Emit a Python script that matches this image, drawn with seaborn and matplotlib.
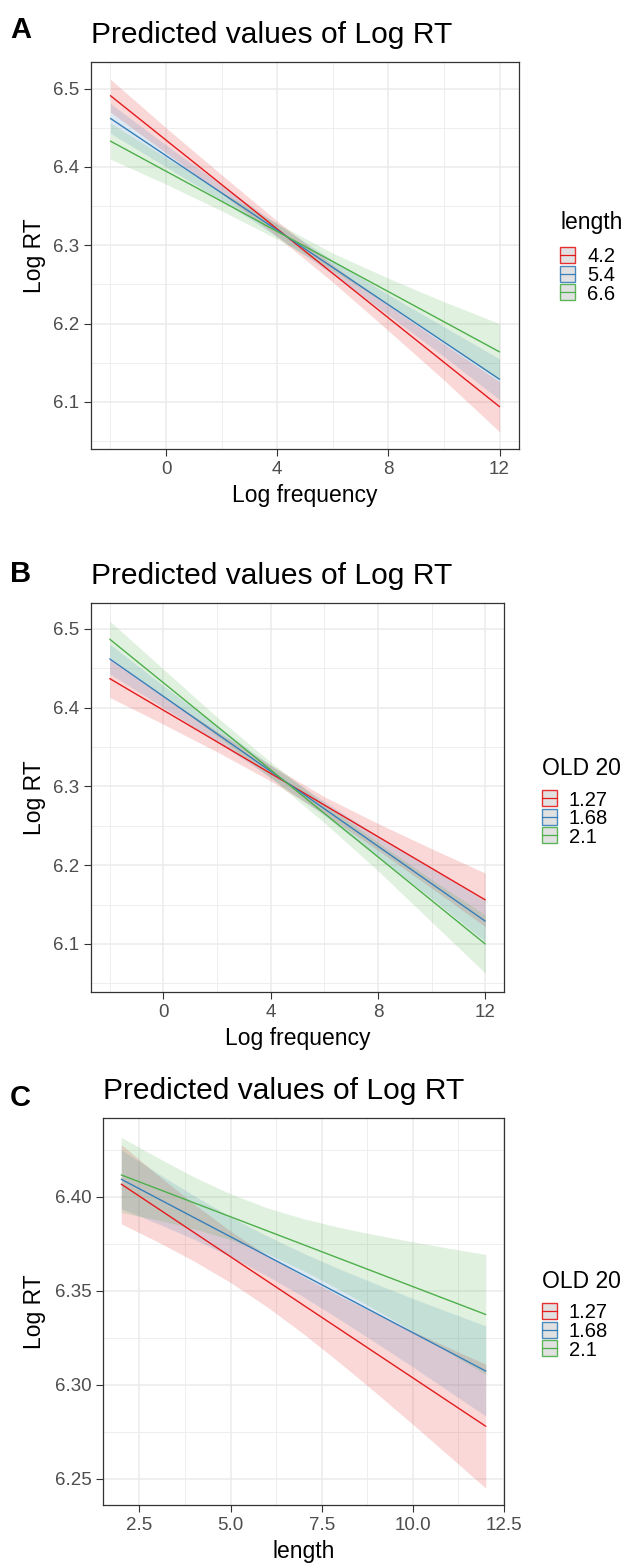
import numpy as np
import pandas as pd
import matplotlib
matplotlib.use("Agg")
import matplotlib.pyplot as plt
import seaborn as sns
from matplotlib.patches import Rectangle
from matplotlib.lines import Line2D
from matplotlib.ticker import MultipleLocator

# ---------------- data ----------------
TITLE = "Predicted values of Log RT"
COLORS = ["#E41A1C", "#377EB8", "#4DAF4A"]

# Panel A : Log frequency x length
a_groups = ["4.2", "5.4", "6.6"]
a_line_x = [-2, 12]
a_pred_1 = [6.491, 6.094]
a_pred_2 = [6.462, 6.129]
a_pred_3 = [6.433, 6.164]
a_band_x = [-2, 0, 2, 4, 6, 8, 10, 12]
a_lo_1 = [6.470, 6.418, 6.366, 6.311, 6.253, 6.191, 6.128, 6.062]
a_hi_1 = [6.512, 6.450, 6.390, 6.331, 6.275, 6.223, 6.174, 6.126]
a_lo_2 = [6.443, 6.400, 6.357, 6.311, 6.263, 6.211, 6.158, 6.103]
a_hi_2 = [6.481, 6.428, 6.377, 6.327, 6.281, 6.237, 6.196, 6.155]
a_lo_3 = [6.410, 6.378, 6.344, 6.308, 6.268, 6.224, 6.176, 6.128]
a_hi_3 = [6.456, 6.412, 6.368, 6.328, 6.290, 6.258, 6.228, 6.200]
a_xticks = [0, 4, 8, 12]
a_xticklabels = ["0", "4", "8", "12"]
a_yticks = [6.1, 6.2, 6.3, 6.4, 6.5]
a_yticklabels = ["6.1", "6.2", "6.3", "6.4", "6.5"]

# Panel B : Log frequency x OLD 20
b_groups = ["1.27", "1.68", "2.1"]
b_line_x = [-2, 12]
b_pred_1 = [6.437, 6.156]
b_pred_2 = [6.462, 6.129]
b_pred_3 = [6.487, 6.100]
b_band_x = [-2, 0, 2, 4, 6, 8, 10, 12]
b_lo_1 = [6.413, 6.379, 6.344, 6.307, 6.265, 6.219, 6.171, 6.122]
b_hi_1 = [6.461, 6.415, 6.370, 6.327, 6.287, 6.253, 6.221, 6.190]
b_lo_2 = [6.443, 6.400, 6.357, 6.311, 6.263, 6.211, 6.158, 6.103]
b_hi_2 = [6.481, 6.428, 6.377, 6.327, 6.281, 6.237, 6.196, 6.155]
b_lo_3 = [6.464, 6.415, 6.364, 6.311, 6.254, 6.193, 6.128, 6.063]
b_hi_3 = [6.510, 6.449, 6.388, 6.331, 6.278, 6.229, 6.182, 6.137]
b_xticks = [0, 4, 8, 12]
b_xticklabels = ["0", "4", "8", "12"]
b_yticks = [6.1, 6.2, 6.3, 6.4, 6.5]
b_yticklabels = ["6.1", "6.2", "6.3", "6.4", "6.5"]

# Panel C : length x OLD 20
c_groups = ["1.27", "1.68", "2.1"]
c_line_x = [2, 12]
c_pred_1 = [6.4068, 6.2779]
c_pred_2 = [6.4094, 6.3073]
c_pred_3 = [6.4117, 6.3374]
c_band_x = [2, 3, 4, 5, 6, 7, 8, 9, 10, 11, 12]
c_lo_1 = [6.3857, 6.3761, 6.3658, 6.3544, 6.3415, 6.3271, 6.3116, 6.2955, 6.2789, 6.2620, 6.2449]
c_hi_1 = [6.4279, 6.4117, 6.3962, 6.3818, 6.3689, 6.3575, 6.3472, 6.3377, 6.3285, 6.3196, 6.3109]
c_lo_2 = [6.3937, 6.3858, 6.3774, 6.3682, 6.3580, 6.3468, 6.3347, 6.3222, 6.3095, 6.2964, 6.2833]
c_hi_2 = [6.4251, 6.4126, 6.4006, 6.3894, 6.3792, 6.3700, 6.3615, 6.3536, 6.3459, 6.3386, 6.3313]
c_lo_3 = [6.3917, 6.3877, 6.3830, 6.3772, 6.3698, 6.3608, 6.3505, 6.3397, 6.3285, 6.3170, 6.3054]
c_hi_3 = [6.4317, 6.4209, 6.4106, 6.4016, 6.3942, 6.3884, 6.3837, 6.3797, 6.3761, 6.3726, 6.3694]
c_xticks = [2.5, 5.0, 7.5, 10.0, 12.5]
c_xticklabels = ["2.5", "5.0", "7.5", "10.0", "12.5"]
c_yticks = [6.25, 6.30, 6.35, 6.40]
c_yticklabels = ["6.25", "6.30", "6.35", "6.40"]

# ---------------- style ----------------
sns.set_theme(style="white")
plt.rcParams["font.family"] = ["Liberation Sans", "DejaVu Sans"]

W, H = 630, 1567
fig = plt.figure(figsize=(W / 100, H / 100), dpi=100)
fig.patch.set_facecolor("white")


def fx(px):
    return px / W


def fy(py):
    return 1 - py / H


def make_axes(l, t, r, b):
    return fig.add_axes([fx(l), fy(b), (r - l) / W, (b - t) / H])


panels = [
    dict(letter="A", box=(91, 62, 519, 449), xlim=(-2.7, 12.7), ylim=(6.040, 6.534),
         groups=a_groups, line_x=a_line_x, preds=[a_pred_1, a_pred_2, a_pred_3],
         band_x=a_band_x, los=[a_lo_1, a_lo_2, a_lo_3], his=[a_hi_1, a_hi_2, a_hi_3],
         xticks=a_xticks, xtl=a_xticklabels, yticks=a_yticks, ytl=a_yticklabels,
         xminor=2, yminor=0.05, xlabel="Log frequency", legend_title="length",
         letter_y=38, leg_x=560, leg_title_y=229, leg_c=[255, 273.5, 292]),
    dict(letter="B", box=(91, 603, 504, 992), xlim=(-2.7, 12.7), ylim=(6.039, 6.533),
         groups=b_groups, line_x=b_line_x, preds=[b_pred_1, b_pred_2, b_pred_3],
         band_x=b_band_x, los=[b_lo_1, b_lo_2, b_lo_3], his=[b_hi_1, b_hi_2, b_hi_3],
         xticks=b_xticks, xtl=b_xticklabels, yticks=b_yticks, ytl=b_yticklabels,
         xminor=2, yminor=0.05, xlabel="Log frequency", legend_title="OLD 20",
         letter_y=582, leg_x=542, leg_title_y=775, leg_c=[798, 816.5, 835]),
    dict(letter="C", box=(103, 1118, 504, 1505), xlim=(1.5, 12.5), ylim=(6.236, 6.442),
         groups=c_groups, line_x=c_line_x, preds=[c_pred_1, c_pred_2, c_pred_3],
         band_x=c_band_x, los=[c_lo_1, c_lo_2, c_lo_3], his=[c_hi_1, c_hi_2, c_hi_3],
         xticks=c_xticks, xtl=c_xticklabels, yticks=c_yticks, ytl=c_yticklabels,
         xminor=1.25, yminor=0.025, xlabel="length", legend_title="OLD 20",
         letter_y=1106, leg_x=542, leg_title_y=1288, leg_c=[1311, 1329.5, 1348]),
]

for p in panels:
    l, t, r, b = p["box"]
    ax = make_axes(l, t, r, b)
    ax.set_facecolor("white")
    palette = dict(zip(p["groups"], COLORS))

    # confidence bands
    for g, lo, hi in zip(p["groups"], p["los"], p["his"]):
        ax.fill_between(p["band_x"], lo, hi, color=palette[g], alpha=0.17,
                        linewidth=0, zorder=2)

    # predicted lines (seaborn)
    rows = []
    for g, pred in zip(p["groups"], p["preds"]):
        for xv, yv in zip(p["line_x"], pred):
            rows.append({"x": xv, "y": yv, "grp": g})
    df = pd.DataFrame(rows)
    sns.lineplot(data=df, x="x", y="y", hue="grp", hue_order=p["groups"],
                 palette=palette, estimator=None, linewidth=1.0, legend=False,
                 ax=ax, zorder=3)

    ax.set_xlim(*p["xlim"])
    ax.set_ylim(*p["ylim"])
    ax.set_xticks(p["xticks"])
    ax.set_xticklabels(p["xtl"])
    ax.set_yticks(p["yticks"])
    ax.set_yticklabels(p["ytl"])
    ax.xaxis.set_minor_locator(MultipleLocator(p["xminor"]))
    ax.yaxis.set_minor_locator(MultipleLocator(p["yminor"]))
    ax.set_axisbelow(True)
    ax.grid(which="major", color="#EBEBEB", linewidth=1.1, zorder=0)
    ax.grid(which="minor", color="#EDEDED", linewidth=0.65, zorder=0)
    ax.tick_params(which="major", direction="out", length=4.8, width=0.8,
                   color="#333333", labelcolor="#4D4D4D", labelsize=13.5, pad=3.5,
                   bottom=True, left=True)
    ax.tick_params(which="minor", length=0)
    for s in ax.spines.values():
        s.set_visible(True)
        s.set_color("#333333")
        s.set_linewidth(0.9)

    ax.set_xlabel(p["xlabel"], fontsize=16.5, color="black")
    ax.set_ylabel("Log RT", fontsize=16.5, color="black")
    ax.xaxis.set_label_coords(0.5, -35 / (b - t))
    ax.yaxis.set_label_coords((46 - l) / (r - l), 0.5)

    ax.set_title(TITLE, loc="left", fontsize=21.6, pad=13.5, color="black")

    fig.text(fx(10), fy(p["letter_y"]), p["letter"], fontsize=21,
             fontweight="bold", va="baseline", ha="left", color="black")

    # legend (ggplot-style guide drawn at its position)
    lx = p["leg_x"]
    fig.text(fx(lx), fy(p["leg_title_y"]), p["legend_title"], fontsize=16.5,
             va="baseline", ha="left", color="black")
    for g, yc in zip(p["groups"], p["leg_c"]):
        c = palette[g]
        rect = Rectangle((fx(lx), fy(yc + 8)), 15 / W, 16 / H,
                         transform=fig.transFigure, facecolor="#DEDEDE",
                         edgecolor=c, linewidth=1.0, alpha=0.9)
        fig.add_artist(rect)
        fig.add_artist(Line2D([fx(lx), fx(lx + 15)], [fy(yc), fy(yc)],
                              transform=fig.transFigure, color=c, linewidth=0.9))
        fig.text(fx(lx + 27), fy(yc), g, fontsize=14.5, va="center_baseline",
                 ha="left", color="black")

fig.savefig("out.png", dpi=100, facecolor="white")
